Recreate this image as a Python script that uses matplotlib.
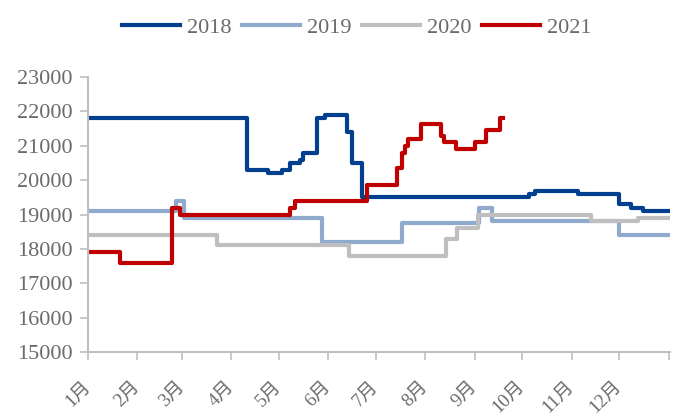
import matplotlib.pyplot as plt
from matplotlib.transforms import ScaledTranslation

# price by day of year, each value holds until the next change
d18 = [0, 100, 113, 122, 127, 133, 135, 144, 149, 163, 166, 172, 277, 281, 308, 334, 341, 349, 366]
v18 = [21800, 20300, 20200, 20300, 20500, 20600, 20800, 21800, 21900, 21400, 20500, 19500, 19600, 19700,
       19600, 19300, 19200, 19100, 19100]

d19 = [0, 55, 60, 147, 197, 246, 254, 334, 366]
v19 = [19100, 19400, 18900, 18200, 18750, 19200, 18800, 18400, 18400]

d20 = [0, 81, 164, 225, 232, 245, 316, 346, 366]
v20 = [18400, 18100, 17800, 18300, 18600, 19000, 18800, 18900, 18900]

d21 = [2, 20, 53, 58, 127, 130, 175, 194, 197, 199, 201, 209, 222, 224, 231, 243, 250, 259, 261]
v21 = [17900, 17600, 19200, 19000, 19200, 19400, 19850, 20350, 20800, 21000, 21200, 21650, 21300, 21100,
       20900, 21100, 21450, 21800, 21800]

month_starts = [0, 31, 59, 90, 120, 151, 181, 212, 243, 273, 304, 334, 365]
month_labels = ["1月", "2月", "3月", "4月", "5月", "6月", "7月", "8月", "9月", "10月", "11月", "12月"]

plt.rcParams['font.family'] = ['Liberation Serif', 'Noto Sans CJK SC']
text_color = '#6b6b6b'
axis_color = '#bfbfbf'

fig = plt.figure(figsize=(6.73, 4.17), dpi=100)
ax = fig.add_axes([0.131, 0.156, 0.865, 0.659])

lw = 3
ax.plot(d18, v18, drawstyle='steps-post', color='#023f8f', lw=lw, label='2018')
ax.plot(d19, v19, drawstyle='steps-post', color='#8faacc', lw=lw, label='2019')
ax.plot(d20, v20, drawstyle='steps-post', color='#bfbfbf', lw=lw, label='2020')
ax.plot(d21, v21, drawstyle='steps-post', color='#c00000', lw=lw, label='2021')

ax.set_xlim(0, 366)
ax.set_ylim(15000, 23000)
ax.set_yticks(range(15000, 23001, 1000))
ax.set_xticks(month_starts)
ax.set_xticklabels(month_labels + [""], rotation=45, ha='right', va='center', rotation_mode='anchor')
shift = ScaledTranslation(-3 / 72, 0, fig.dpi_scale_trans)
for lab in ax.get_xticklabels():
    lab.set_transform(lab.get_transform() + shift)

for s in ['top', 'right']:
    ax.spines[s].set_visible(False)
for s in ['left', 'bottom']:
    ax.spines[s].set_color(axis_color)
    ax.spines[s].set_linewidth(1.5)
ax.tick_params(axis='both', colors=axis_color, length=6, width=1.2, labelcolor=text_color, labelsize=16)
ax.tick_params(axis='y', pad=5)
ax.tick_params(axis='x', pad=17, labelsize=13.5)

fig.legend(loc='center', bbox_to_anchor=(0.53, 0.933), ncol=4, frameon=False, fontsize=16,
           handlelength=2.6, handletextpad=0.3, columnspacing=0.5, labelcolor=text_color)

plt.savefig("out.png", dpi=100)
